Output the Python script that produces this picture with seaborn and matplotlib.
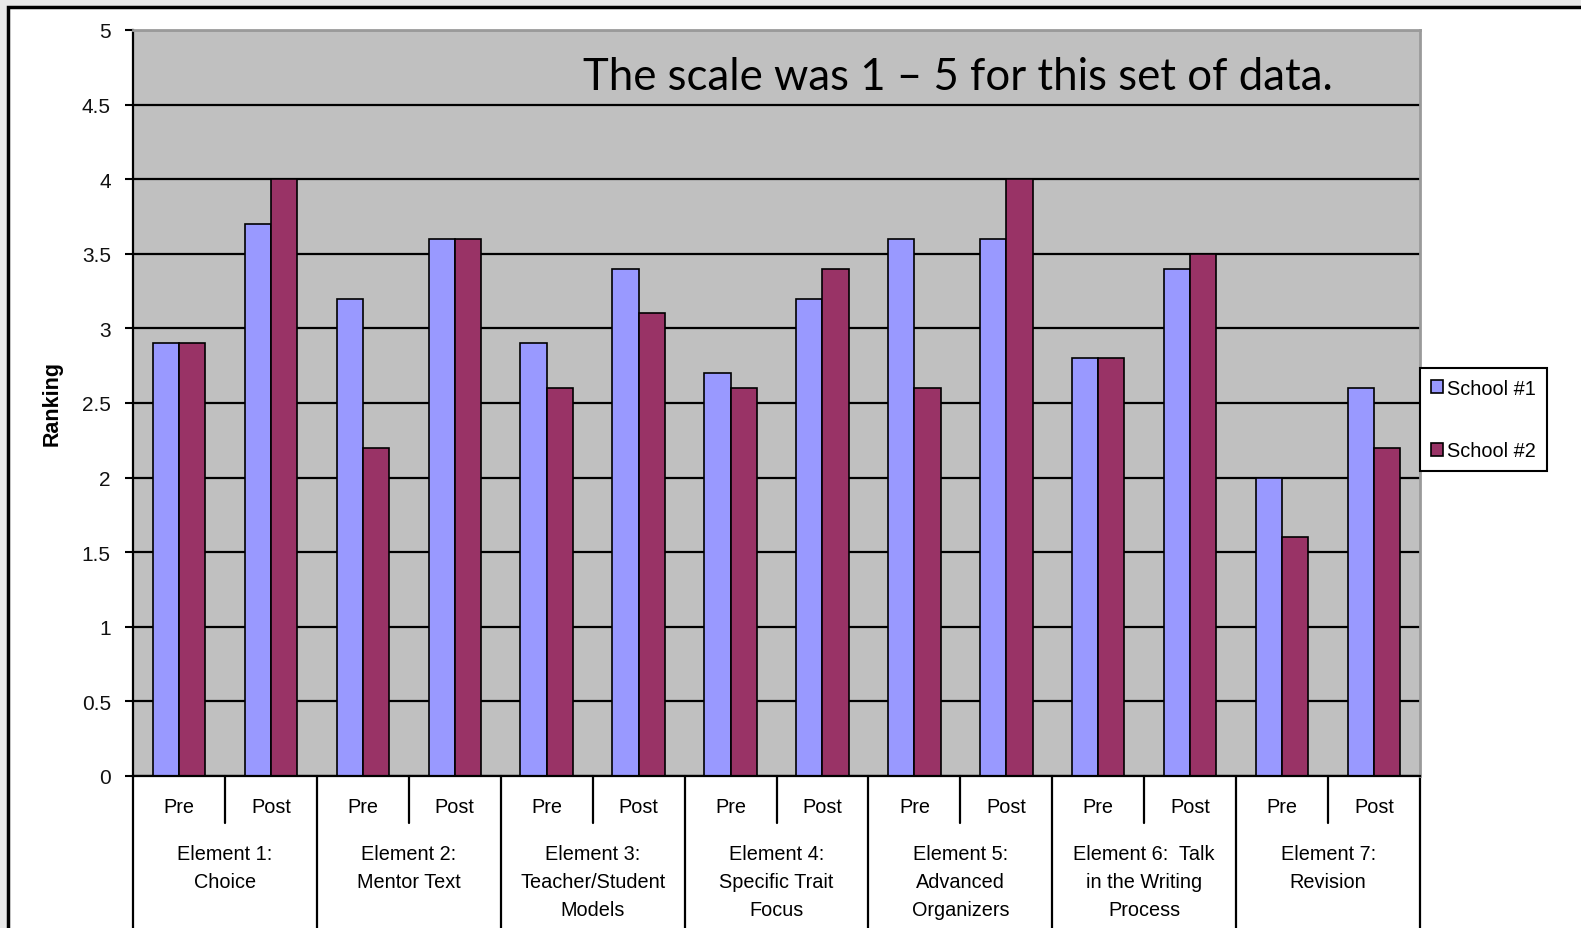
import numpy as np
import pandas as pd
import matplotlib.pyplot as plt
import seaborn as sns
from matplotlib.patches import Rectangle

# Data
elements = [
    "Element 1:\nChoice",
    "Element 2:\nMentor Text",
    "Element 3:\nTeacher/Student\nModels",
    "Element 4:\nSpecific Trait\nFocus",
    "Element 5:\nAdvanced\nOrganizers",
    "Element 6:  Talk\nin the Writing\nProcess",
    "Element 7:\nRevision",
]
phases = ["Pre", "Post"]
schools = ["School #1", "School #2"]
school1 = [2.9, 3.7, 3.2, 3.6, 2.9, 3.4, 2.7, 3.2, 3.6, 3.6, 2.8, 3.4, 2.0, 2.6]
school2 = [2.9, 4.0, 2.2, 3.6, 2.6, 3.1, 2.6, 3.4, 2.6, 4.0, 2.8, 3.5, 1.6, 2.2]
colors = ["#9999FF", "#993366"]

slots = [f"{i}-{p}" for i in range(len(elements)) for p in phases]
df = pd.DataFrame({
    "slot": slots * 2,
    "school": [schools[0]] * len(slots) + [schools[1]] * len(slots),
    "value": school1 + school2,
})

sns.set_style("white")
plt.rcParams["font.family"] = ["Liberation Sans", "DejaVu Sans"]
plt.rcParams["text.color"] = "black"
plt.rcParams["ytick.color"] = "black"
plt.rcParams["axes.labelcolor"] = "black"

W, H = 1581, 929
fig = plt.figure(figsize=(W / 100, H / 100), dpi=100)
fig.patch.set_facecolor("#e8e8e8")
fig.patches.append(Rectangle((8 / W, -0.1), 1.2, (H - 8) / H + 0.1,
                             transform=fig.transFigure, facecolor="white",
                             edgecolor="black", linewidth=2.5, zorder=-1))

ax = fig.add_axes([133 / W, 1 - 777 / H, (1420 - 133) / W, (777 - 31) / H])
ax.set_facecolor("#C0C0C0")

sns.barplot(data=df, x="slot", y="value", hue="school", order=slots,
            hue_order=schools, palette=colors, width=0.57, gap=0,
            edgecolor="black", linewidth=1.2, saturation=1, ax=ax)

ax.set_xlim(-0.5, len(slots) - 0.5)
ax.set_ylim(0, 5)
ax.set_yticks(np.arange(0, 5.01, 0.5))
ax.set_yticklabels(["0", "0.5", "1", "1.5", "2", "2.5", "3", "3.5", "4", "4.5", "5"])
ax.set_axisbelow(True)
ax.yaxis.grid(True, color="black", linewidth=1.6)
ax.xaxis.grid(False)
ax.set_xticks([])
ax.set_xlabel("")
ax.tick_params(axis="y", left=True, length=6, width=1.5, color="black",
               pad=10, labelsize=15, labelcolor="#111111")
ax.set_ylabel("Ranking", fontsize=15.5, fontweight="bold")
ax.yaxis.set_label_coords(-(133 - 63) / (1420 - 133), 0.5)

for side in ["top", "right"]:
    ax.spines[side].set_color("#9a9a9a")
    ax.spines[side].set_linewidth(2)
ax.spines["left"].set_color("black")
ax.spines["left"].set_linewidth(1.6)
ax.spines["bottom"].set_color("black")
ax.spines["bottom"].set_linewidth(1.6)

# Category table under the axis
ah = 777 - 31
trans = ax.get_xaxis_transform()
for i in range(len(elements) + 1):
    ax.plot([2 * i - 0.5, 2 * i - 0.5], [0, -0.25], transform=trans,
            color="black", linewidth=1.6, clip_on=False)
for i, name in enumerate(elements):
    ax.plot([2 * i + 0.5, 2 * i + 0.5], [0, -47 / ah], transform=trans,
            color="black", linewidth=1.6, clip_on=False)
    for j, p in enumerate(phases):
        ax.text(2 * i + j, -31 / ah, p, transform=trans, ha="center",
                va="center", fontsize=14.3)
    ax.text(2 * i + 0.5, -68 / ah, name, transform=trans, ha="center",
            va="top", fontsize=14.3, linespacing=1.6)

handles, labels = ax.get_legend_handles_labels()
ax.legend(handles, labels, loc="center left", bbox_to_anchor=(1.0, 0.478),
          fontsize=14.3, frameon=True, fancybox=False, framealpha=1,
          edgecolor="black", borderaxespad=0, borderpad=0.55,
          labelspacing=2.2, handlelength=0.6, handleheight=0.6,
          handletextpad=0.2)
ax.get_legend().get_frame().set_linewidth(1.5)

fig.text(583 / W, 1 - 77 / H, "The scale was 1 \u2013 5 for this set of data.",
         fontsize=31.5, family=["Lato", "DejaVu Sans"], ha="left", va="center",
         color="black")

fig.savefig("out.png", dpi=100, facecolor=fig.get_facecolor())
